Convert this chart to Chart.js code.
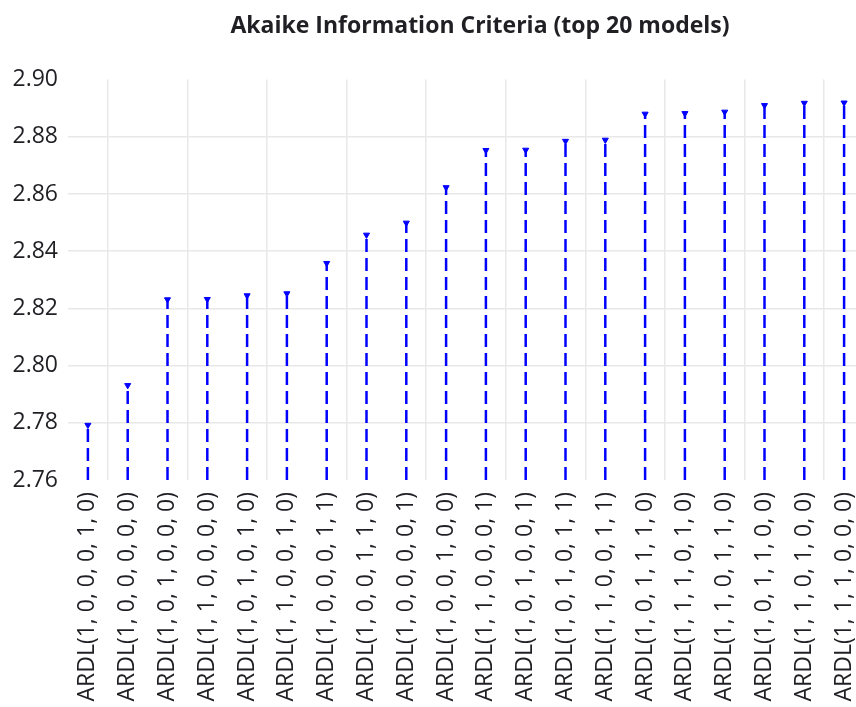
<!DOCTYPE html>
<html>
<head>
<meta charset="utf-8">
<script src="https://cdn.jsdelivr.net/npm/chart.js@4.4.1/dist/chart.umd.min.js"></script>
<style>
    html, body { margin: 0; padding: 0; background: #fff; overflow: hidden; }
    #wrap { width: 960px; height: 707px; }
</style>
</head>
<body>
<div id="wrap"><canvas id="aicChart" width="960" height="707"></canvas></div>
<script>
const chartTitle = "Akaike Information Criteria (top 20 models)";

const models = [
    "ARDL(1, 0, 0, 0, 1, 0)", "ARDL(1, 0, 0, 0, 0, 0)", "ARDL(1, 0, 1, 0, 0, 0)", "ARDL(1, 1, 0, 0, 0, 0)",
    "ARDL(1, 0, 1, 0, 1, 0)", "ARDL(1, 1, 0, 0, 1, 0)", "ARDL(1, 0, 0, 0, 1, 1)", "ARDL(1, 0, 0, 1, 1, 0)",
    "ARDL(1, 0, 0, 0, 0, 1)", "ARDL(1, 0, 0, 1, 0, 0)", "ARDL(1, 1, 0, 0, 0, 1)", "ARDL(1, 0, 1, 0, 0, 1)",
    "ARDL(1, 0, 1, 0, 1, 1)", "ARDL(1, 1, 0, 0, 1, 1)", "ARDL(1, 0, 1, 1, 1, 0)", "ARDL(1, 1, 1, 0, 1, 0)",
    "ARDL(1, 1, 0, 1, 1, 0)", "ARDL(1, 0, 1, 1, 0, 0)", "ARDL(1, 1, 0, 1, 0, 0)", "ARDL(1, 1, 1, 0, 0, 0)"
];

const aicValues = [
    2.7792, 2.7931, 2.8231, 2.8232, 2.8245, 2.8252, 2.8358, 2.8457, 2.8499, 2.8623,
    2.8753, 2.8754, 2.8785, 2.8789, 2.8880, 2.8882, 2.8887, 2.8910, 2.8918, 2.8919
];

const yMin = 2.76;
const yMax = 2.90;
const yStep = 0.02;

// each model gets a stem: bottom point, top point, then a gap
let stemPoints = [];
models.forEach((m, i) => {
    stemPoints.push({ x: m, y: yMin, top: false });
    stemPoints.push({ x: m, y: aicValues[i], top: true });
    stemPoints.push({ x: m, y: null, top: false });
});

const textColor = "#1f1f24";
const gridColor = "#e8e8e8";
const fontFamily = "'Open Sans', sans-serif";

let chartEl = document.getElementById("aicChart");
let aicChart = new Chart(chartEl, {
    type: "line",
    data: {
        labels: models,
        datasets: [{
            data: stemPoints,
            borderColor: "#0000ff",
            backgroundColor: "#0000ff",
            borderWidth: 2.5,
            borderDash: [13, 6],
            spanGaps: false,
            tension: 0,
            pointStyle: "triangle",
            rotation: 180,
            pointRadius: function (ctx) {
                return ctx.raw && ctx.raw.top ? 3.5 : 0;
            },
            pointBorderWidth: 1,
            pointHoverRadius: 0
        }]
    },
    options: {
        responsive: false,
        devicePixelRatio: 1,
        animation: false,
        layout: {
            padding: 0
        },
        scales: {
            x: {
                type: "category",
                offset: true,
                border: { display: false },
                grid: {
                    offset: true,
                    drawTicks: false,
                    lineWidth: 1.5,
                    color: function (ctx) {
                        return ctx.index % 2 === 1 ? gridColor : "rgba(0,0,0,0)";
                    }
                },
                ticks: {
                    autoSkip: false,
                    minRotation: 90,
                    maxRotation: 90,
                    padding: 12,
                    color: textColor,
                    font: { family: fontFamily, size: 23 }
                },
                afterFit: function (scale) {
                    scale.height = 227;
                }
            },
            y: {
                min: yMin,
                max: yMax,
                border: { display: false },
                grid: {
                    drawTicks: false,
                    lineWidth: 1.5,
                    color: function (ctx) {
                        return (ctx.index === 0 || ctx.index === 7) ? "rgba(0,0,0,0)" : gridColor;
                    }
                },
                ticks: {
                    stepSize: yStep,
                    padding: 10,
                    color: textColor,
                    font: { family: fontFamily, size: 23 },
                    callback: function (value) {
                        return value.toFixed(2);
                    }
                },
                afterFit: function (scale) {
                    scale.width = 68;
                }
            },
            // empty right-hand spacer so the plot stops where the picture is cut
            yRight: {
                position: "right",
                min: yMin,
                max: yMax,
                border: { display: false },
                grid: { display: false },
                ticks: { display: false },
                afterFit: function (scale) {
                    scale.width = 96;
                }
            }
        },
        plugins: {
            legend: { display: false },
            tooltip: { enabled: false },
            title: {
                display: true,
                text: chartTitle,
                color: textColor,
                font: { family: fontFamily, size: 23, weight: "bold" },
                padding: { top: 13, bottom: 39 }
            }
        }
    }
});
</script>
</body>
</html>
